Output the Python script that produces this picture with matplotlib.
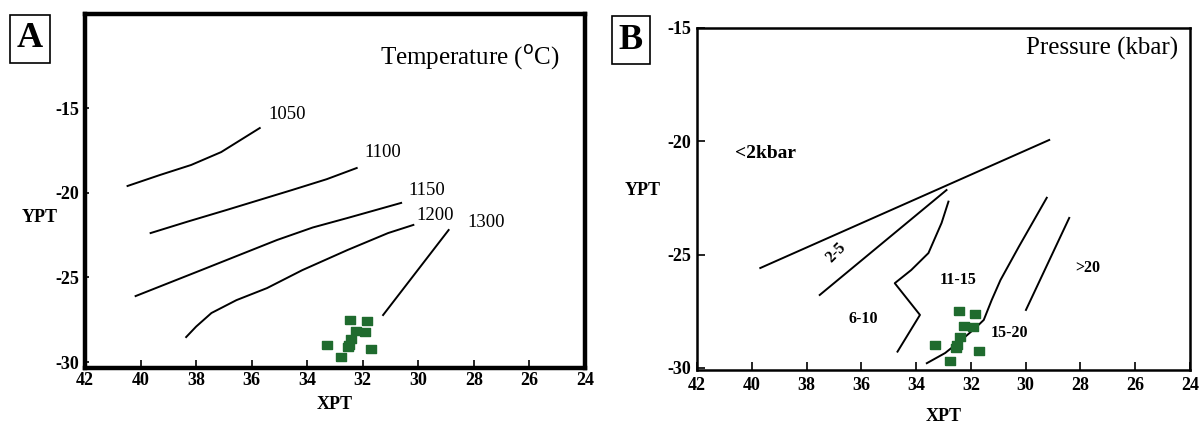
import numpy as np
import matplotlib
matplotlib.use("Agg")
import matplotlib.pyplot as plt

plt.rcParams['font.family'] = ['Liberation Serif', 'DejaVu Serif']
plt.rcParams['axes.unicode_minus'] = False

# sample points (same samples in both diagrams)
pts_x = [32.45, 31.85, 32.24, 31.91, 32.41, 32.5, 33.3, 32.55, 31.7, 32.77]
pts_y = [-27.5, -27.6, -28.15, -28.2, -28.65, -29.0, -29.0, -29.1, -29.25, -29.7]

# panel A isotherms
iso_labels = ['1050', '1100', '1150', '1200', '1300']
iso_x = [[40.47, 39.3, 38.18, 37.1, 35.71],
         [39.64, 38.3, 36.91, 34.55, 33.3, 32.22],
         [40.18, 37.82, 35.09, 33.8, 32.55, 30.62],
         [38.36, 38.0, 37.45, 36.55, 35.45, 34.18, 32.55, 31.09, 30.18],
         [31.27, 28.91]]
iso_y = [[-19.6, -18.95, -18.36, -17.6, -16.18],
         [-22.38, -21.7, -21.02, -19.84, -19.2, -18.54],
         [-26.1, -24.57, -22.79, -22.05, -21.49, -20.6],
         [-28.52, -27.9, -27.1, -26.34, -25.63, -24.57, -23.38, -22.38, -21.9],
         [-27.22, -22.2]]
iso_lab_x = [34.73, 31.27, 29.71, 29.38, 27.56]
iso_lab_y = [-15.41, -17.65, -19.84, -21.32, -21.73]

# panel B isobars
bar_x = [[39.69, 29.14],
         [37.52, 32.89],
         [32.82, 33.07, 33.55, 34.18, 34.78, 33.86, 34.68],
         [29.23, 30.25, 30.92, 31.24, 31.53, 31.84, 32.34, 32.94, 33.61],
         [28.41, 29.99]]
bar_y = [[-25.59, -19.94],
         [-26.78, -22.15],
         [-22.66, -23.6, -24.93, -25.68, -26.26, -27.66, -29.28],
         [-22.49, -24.65, -26.12, -27.0, -27.88, -28.24, -28.76, -29.34, -29.79],
         [-23.38, -27.44]]
field_labels = ['<2kbar', '2-5', '6-10', '11-15', '15-20', '>20']
field_x = [40.6, 36.93, 35.94, 32.45, 30.6, 27.75]
field_y = [-20.55, -24.9, -27.84, -26.12, -28.46, -25.59]
field_rot = [0, 45, 0, 0, 0, 0]

xticks = [42, 40, 38, 36, 34, 32, 30, 28, 26, 24]

green = '#1f6b2e'
rect = [(-1.5, -1), (1.5, -1), (1.5, 1), (-1.5, 1), (-1.5, -1)]

fig = plt.figure(figsize=(12.03, 4.32), dpi=100)

# ---- panel A ----
axA = fig.add_axes([0.0707, 0.148, 0.4156, 0.8195])
for xs, ys in zip(iso_x, iso_y):
    axA.plot(xs, ys, color='black', lw=1.4)
for lab, lx, ly in zip(iso_labels, iso_lab_x, iso_lab_y):
    axA.text(lx, ly, lab, fontsize=13.5, ha='center', va='center')
axA.scatter(pts_x, pts_y, marker=rect, s=60, color=green, zorder=3)
axA.set_xlim(42, 24)
axA.set_ylim(-30.35, -9.45)
axA.set_xticks(xticks)
axA.set_yticks([-15, -20, -25, -30])
for s in axA.spines.values():
    s.set_linewidth(3.2)
axA.tick_params(axis='x', direction='in', length=6, width=1.2, pad=3)
axA.tick_params(axis='y', direction='in', length=3, width=1.2, pad=4)
for t in axA.get_xticklabels() + axA.get_yticklabels():
    t.set_fontweight('bold')
    t.set_fontsize(13)
axA.set_xlabel('XPT', fontsize=13, fontweight='bold', labelpad=5)
axA.set_ylabel('YPT', fontsize=13, fontweight='bold', rotation=0)
axA.yaxis.set_label_coords(-0.09, 0.40)
axA.text(0.95, 0.876, 'Temperature ($^{\\mathrm{o}}$C)', transform=axA.transAxes,
         fontsize=18, ha='right', va='center')

# ---- panel B ----
axB = fig.add_axes([0.5794, 0.1435, 0.4098, 0.7917])
for xs, ys in zip(bar_x, bar_y):
    axB.plot(xs, ys, color='black', lw=1.4)
for lab, lx, ly, r in zip(field_labels, field_x, field_y, field_rot):
    axB.text(lx, ly, lab, fontsize=14 if lab == '<2kbar' else 11.5,
             fontweight='bold', ha='left' if lab == '<2kbar' else 'center',
             va='center', rotation=r)
axB.scatter(pts_x, pts_y, marker=rect, s=60, color=green, zorder=3)
axB.set_xlim(42, 24)
axB.set_ylim(-30.09, -15)
axB.set_xticks(xticks)
axB.set_yticks([-15, -20, -25, -30])
for s in axB.spines.values():
    s.set_linewidth(1.8)
axB.tick_params(axis='x', direction='in', length=6, width=1.2, pad=5)
axB.tick_params(axis='y', direction='in', length=6, width=1.2, pad=4)
for t in axB.get_xticklabels() + axB.get_yticklabels():
    t.set_fontweight('bold')
    t.set_fontsize(13)
axB.set_xlabel('XPT', fontsize=13, fontweight='bold', labelpad=10)
axB.set_ylabel('YPT', fontsize=13, fontweight='bold', rotation=0)
axB.yaxis.set_label_coords(-0.11, 0.50)
axB.text(0.976, 0.94, 'Pressure (kbar)', transform=axB.transAxes,
         fontsize=18, ha='right', va='center')

# panel letters
box = dict(boxstyle='square,pad=0.2', fc='white', ec='black', lw=1.2)
fig.text(0.025, 0.91, 'A', fontsize=26, fontweight='bold', ha='center', va='center', bbox=box)
fig.text(0.5245, 0.907, 'B', fontsize=26, fontweight='bold', ha='center', va='center', bbox=box)

fig.savefig('out.png', dpi=100)
